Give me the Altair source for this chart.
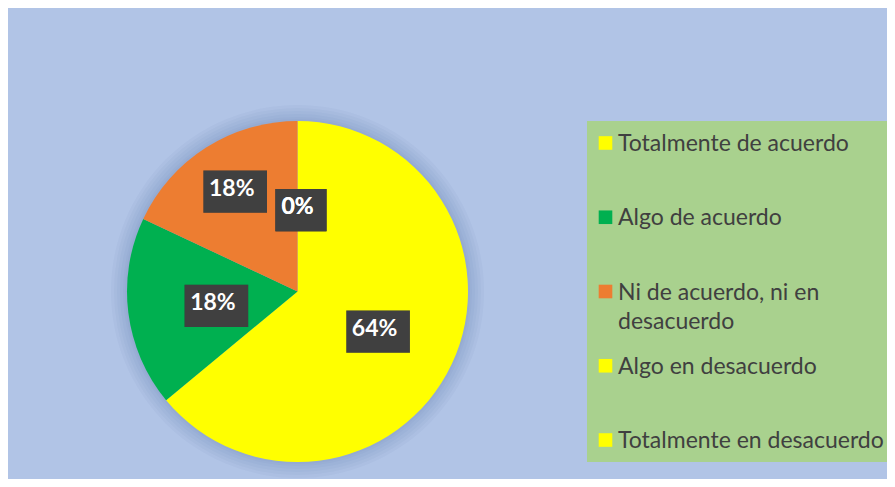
import math
import textwrap
import numpy as np
import pandas as pd
import altair as alt

# ---- data ----
categories = [
    "Totalmente de acuerdo",
    "Algo de acuerdo",
    "Ni de acuerdo, ni en desacuerdo",
    "Algo en desacuerdo",
    "Totalmente en desacuerdo",
]
percent = [64, 18, 18, 0, 0]
pct_labels = ["64%", "18%", "18%", "0%", "0%"]
colors = ["#FFFF00", "#00B050", "#ED7D31", "#FFFF00", "#FFFF00"]

# ---- table built from the arrays ----
df = pd.DataFrame({"cat": categories, "pct": percent, "label": pct_labels,
                   "idx": list(range(len(categories)))})
total = df["pct"].sum()
df["end"] = df["pct"].cumsum()
df["start"] = df["end"] - df["pct"]
df["mid"] = (df["start"] + df["end"]) / 2 / total * 2 * math.pi
# best-fit label distance from the centre (fraction of the radius)
label_radius = {"Ni de acuerdo, ni en desacuerdo": 0.72}
df["f"] = [label_radius.get(c, 0.5) for c in categories]
df["lx"] = df["f"] * np.sin(df["mid"])
df["ly"] = df["f"] * np.cos(df["mid"])
df["box"] = np.where(df["label"].str.len() > 2, "wide", "narrow")
df["legend_text"] = [textwrap.fill(c, 24) for c in categories]

S = 341            # pie panel size
R = S / 2
GLOW = [2, 4, 7, 10, 13, 16]
BG = "#B1C4E6"

color_scale = alt.Scale(domain=categories, range=colors)
xs = alt.Scale(domain=[-1, 1], nice=False, zero=False)
ys = alt.Scale(domain=[-1, 1], nice=False, zero=False)

one = pd.DataFrame({"k": [0]})
glow_layers = [
    alt.Chart(one).mark_arc(theta=0, theta2=2 * math.pi, radius=R + d,
                            color="#2F4B7C", opacity=0.03)
    .encode(x=alt.value(R), y=alt.value(R))
    for d in GLOW
]

base = alt.Chart(df)
pie = base.mark_arc(outerRadius=R).encode(
    theta=alt.Theta("pct:Q", stack=True),
    color=alt.Color("cat:N", scale=color_scale, legend=None),
    order=alt.Order("idx:Q"),
)

box_paths = {
    "wide": "M-1,-0.65L1,-0.65L1,0.65L-1,0.65Z",
    "narrow": "M-0.8,-0.65L0.8,-0.65L0.8,0.65L-0.8,0.65Z",
}
shadow_paths = {
    "wide": "M-0.9,-0.55L1.12,-0.55L1.12,0.79L-0.9,0.79Z",
    "narrow": "M-0.7,-0.55L0.92,-0.55L0.92,0.79L-0.7,0.79Z",
}
pos = dict(
    x=alt.X("lx:Q", scale=xs, axis=None),
    y=alt.Y("ly:Q", scale=ys, axis=None),
)
shadow = base.mark_point(filled=True, color="#000000", opacity=0.22,
                         size=3969, strokeWidth=0).encode(
    **pos,
    shape=alt.Shape("box:N", legend=None,
                    scale=alt.Scale(domain=["wide", "narrow"],
                                    range=[shadow_paths["wide"], shadow_paths["narrow"]])),
)
boxes = base.mark_point(filled=True, color="#404040", opacity=1,
                        size=3969, strokeWidth=0).encode(
    **pos,
    shape=alt.Shape("box:N", legend=None,
                    scale=alt.Scale(domain=["wide", "narrow"],
                                    range=[box_paths["wide"], box_paths["narrow"]])),
)
texts = base.mark_text(font="Lato", fontWeight="bold", fontSize=23,
                       color="#FFFFFF", baseline="middle", dy=1).encode(
    **pos, text="label:N")

left = alt.layer(*glow_layers, pie, shadow, boxes, texts).properties(width=S, height=S)

# ---- legend panel ----
ly_scale = alt.Scale(type="point", padding=0.296)
leg_sym = alt.Chart(df).mark_square(size=185, filled=True, opacity=1).encode(
    x=alt.value(18.5),
    y=alt.Y("cat:N", sort=categories, scale=ly_scale, axis=None),
    color=alt.Color("cat:N", scale=color_scale, legend=None),
)
leg_txt = alt.Chart(df).mark_text(align="left", baseline="alphabetic", dy=8,
                                  font="Lato", fontSize=23, color="#404040",
                                  lineBreak="\n", lineHeight=29).encode(
    x=alt.value(31),
    y=alt.Y("cat:N", sort=categories, scale=ly_scale, axis=None),
    text="legend_text:N",
)
right = alt.layer(leg_sym, leg_txt).properties(
    width=300, height=341,
    view=alt.ViewBackground(fill="#A9D18E", strokeWidth=0),
)

chart = alt.hconcat(left, right, spacing=103).properties(
    padding={"left": 103, "top": 97, "right": 0, "bottom": 1},
    background=BG,
).configure_view(strokeWidth=0)

chart.save("out.html", embed_options={"renderer": "svg", "actions": False})
